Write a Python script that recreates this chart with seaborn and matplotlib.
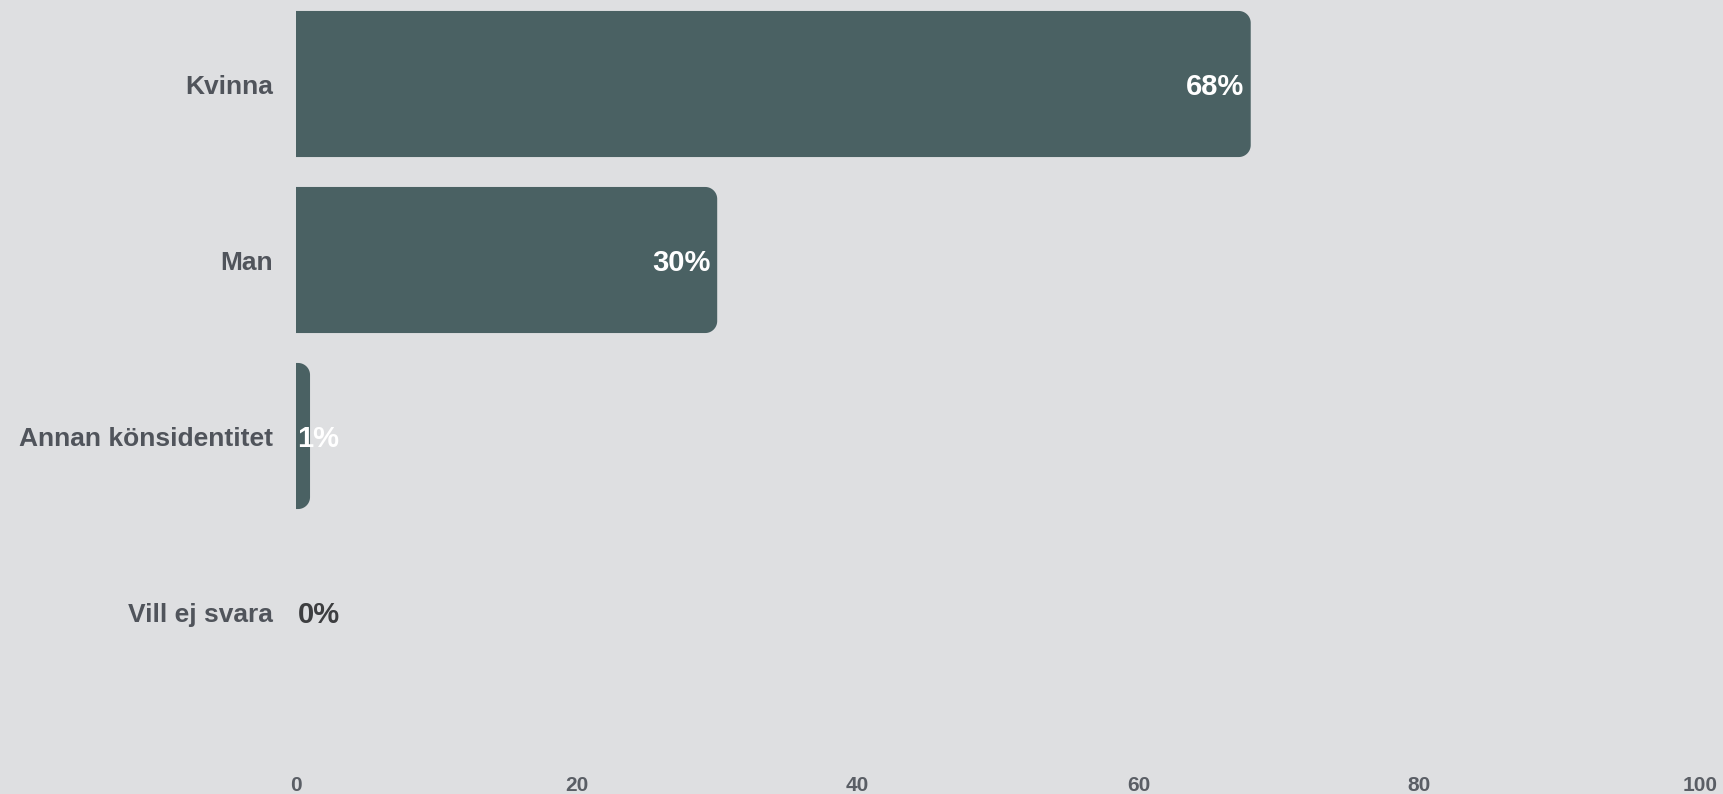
import numpy as np
import matplotlib
matplotlib.use("Agg")
import matplotlib.pyplot as plt
from matplotlib.path import Path
from matplotlib.patches import PathPatch
import seaborn as sns

# Survey answers: gender distribution (percent)
categories = ["Kvinna", "Man", "Annan könsidentitet", "Vill ej svara"]
values = [68, 30, 1, 0]
value_labels = ["68%", "30%", "1%", "0%"]
x_ticks = [0, 20, 40, 60, 80, 100]

BG = "#dedfe1"
BAR = "#4a6163"
LABEL = "#50545b"
TICK = "#5a5e65"
DARK = "#3d3e40"

sns.set_theme(style="white")
plt.rcParams["font.family"] = ["Liberation Sans", "DejaVu Sans"]

W, H = 1724, 794
fig = plt.figure(figsize=(W / 100, H / 100), dpi=100, facecolor=BG)
ax_left, ax_right, ax_top, ax_bottom = 296, 1700, 0, 770
ax = fig.add_axes([ax_left / W, (H - ax_bottom) / H,
                   (ax_right - ax_left) / W, (ax_bottom - ax_top) / H])
ax.set_facecolor(BG)

sns.barplot(x=values, y=categories, orient="h", color=BAR, width=0.83,
            saturation=1, ax=ax)

ax.set_xlim(0, 100)
ax.set_ylim(3.8977, -0.4773)
ax.set_xticks(x_ticks)
ax.set_xticklabels([str(t) for t in x_ticks])
for s in ax.spines.values():
    s.set_visible(False)
ax.tick_params(axis="y", length=0, pad=16.5, labelsize=19, labelcolor=LABEL)
ax.tick_params(axis="x", length=0, pad=4, labelsize=15, labelcolor=TICK)
for t in ax.get_yticklabels() + ax.get_xticklabels():
    t.set_fontweight("bold")
ax.set_xlabel("")
ax.set_ylabel("")

# Replace plain rectangles with bars rounded on the right end
px_x = (ax_right - ax_left) / 100.0
y0, y1 = ax.get_ylim()
px_y = (ax_bottom - ax_top) / abs(y0 - y1)
radius_px = 12
for p in list(ax.patches):
    x0, yb = p.get_x(), p.get_y()
    w, h = p.get_width(), p.get_height()
    p.set_visible(False)
    if w <= 0:
        continue
    r_px = min(radius_px, w * px_x)
    rx, ry = r_px / px_x, r_px / px_y
    x1, yt = x0 + w, yb + h
    th = np.linspace(0, np.pi / 2, 20)
    verts = [(x0, yb), (x1 - rx, yb)]
    cx, cy = x1 - rx, yb + ry
    verts += [(cx + rx * np.sin(t), cy - ry * np.cos(t)) for t in th]
    verts += [(x1, yt - ry)]
    cx, cy = x1 - rx, yt - ry
    verts += [(cx + rx * np.cos(t), cy + ry * np.sin(t)) for t in th]
    verts += [(x0, yt), (x0, yb)]
    codes = [Path.MOVETO] + [Path.LINETO] * (len(verts) - 2) + [Path.CLOSEPOLY]
    ax.add_patch(PathPatch(Path(verts, codes), facecolor=BAR, edgecolor="none"))

# Value labels
for i, (v, lab) in enumerate(zip(values, value_labels)):
    if v >= 10:
        ax.annotate(lab, (v, i), xytext=(-5, -2.2), textcoords="offset points",
                    ha="right", va="center", color="white", fontsize=21,
                    fontweight="bold")
    else:
        ax.annotate(lab, (0, i), xytext=(1, -2.2), textcoords="offset points",
                    ha="left", va="center",
                    color="white" if v > 0 else DARK, fontsize=21,
                    fontweight="bold")

fig.savefig("out.png", dpi=100, facecolor=BG)
